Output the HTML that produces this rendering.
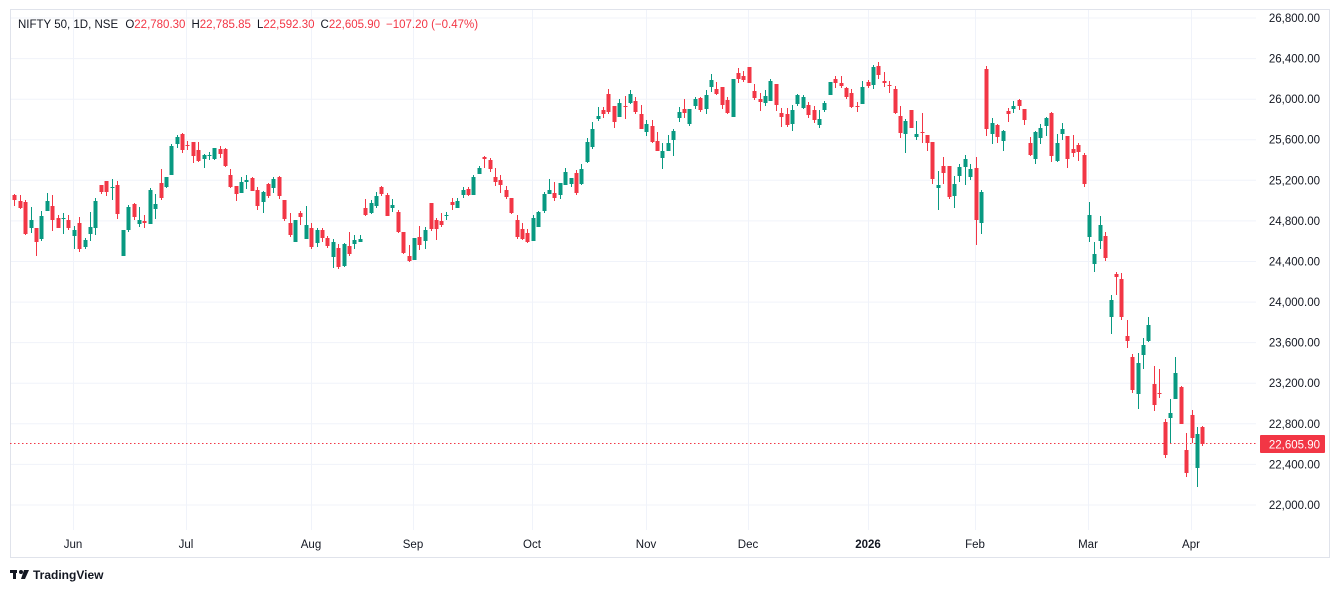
<!DOCTYPE html>
<html><head><meta charset="utf-8"><style>
html,body{margin:0;padding:0;background:#fff;}
body{width:1339px;height:593px;overflow:hidden;font-family:"Liberation Sans",sans-serif;}
svg text{font-family:"Liberation Sans",sans-serif;}
</style></head><body>
<svg id="c" width="1339" height="593" xmlns="http://www.w3.org/2000/svg">
<rect x="0" y="0" width="1339" height="593" fill="#fff"/>
<g id="grid" stroke="#f0f3fa" stroke-width="1"></g>
<rect x="10.5" y="9.5" width="1319" height="548" fill="none" stroke="#e0e3eb" stroke-width="1"/>
<line x1="10" y1="443.5" x2="1258" y2="443.5" stroke="#F23645" stroke-width="1" stroke-dasharray="1.5 2.5"/>
<g id="candles"></g>
<g id="axis" font-size="11.5" fill="#131722" text-anchor="end"></g>
<rect x="1260" y="435" width="65" height="18" fill="#F23645" rx="1"/>
<text x="1320" y="448.5" font-size="11.5" fill="#fff" text-anchor="end">22,605.90</text>
<g id="months" font-size="11.5" fill="#131722" text-anchor="middle"></g>
<text x="18" y="28" font-size="11.5" fill="#131722">NIFTY 50, 1D, NSE <tspan dx="4">O</tspan><tspan fill="#F23645">22,780.30</tspan><tspan dx="6">H</tspan><tspan fill="#F23645">22,785.85</tspan><tspan dx="6">L</tspan><tspan fill="#F23645">22,592.30</tspan><tspan dx="6">C</tspan><tspan fill="#F23645">22,605.90</tspan><tspan dx="6" fill="#F23645">−107.20 (−0.47%)</tspan></text>
<g transform="translate(10,569)"><rect x="0" y="1" width="7" height="3" fill="#131722"/><rect x="3" y="1" width="3" height="9" fill="#131722"/><circle cx="11" cy="3" r="2" fill="#131722"/><path d="M14 1 L19 1 L15 10 L11 10 Z" fill="#131722"/></g>
<text x="33" y="579" font-size="12" fill="#131722" font-weight="bold">TradingView</text>
</svg>
<script>
const ns="http://www.w3.org/2000/svg";
function el(t,a,p){const e=document.createElementNS(ns,t);for(const k in a)e.setAttribute(k,a[k]);p.appendChild(e);return e;}
const grid=document.getElementById('grid'),axis=document.getElementById('axis'),months=document.getElementById('months');
for(let i=0;i<=12;i++){const p=26800-400*i;const y=18+i*40.58;
 el('line',{x1:10,x2:1256,y1:y.toFixed(1),y2:y.toFixed(1)},grid);
 const t=el('text',{x:1320,y:(y+4).toFixed(1)},axis);t.textContent=p.toLocaleString('en-US')+'.00';}
const ms=[["Jun",73],["Jul",186],["Aug",311],["Sep",413],["Oct",532],["Nov",646],["Dec",748],["2026",868],["Feb",975],["Mar",1088],["Apr",1191]];
for(const [m,x] of ms){el('line',{x1:x+.5,x2:x+.5,y1:10,y2:530},grid);
 const t=el('text',{x:x,y:548},months);t.textContent=m;if(m=="2026")t.setAttribute('font-weight','bold');}
const D=[
[14,195,200,194,206],[20,201,208,195,209],[25,202,234,200,235],[31,228,220,207,233],[36,228,242,228,256],[41,239,216,211,241],[47,211,201,193,211],[52,206,220,195,231],[58,218,228,215,228],[63,218.5,218,213,234],[68,220,228,215,230],[74,236,230,226,249],[79,223,249,217,252],[85,247,240,238,249],[90,234,227,212,241],[95,228,201,198,235],[101,185,192,185,194],[106,181,192,181,196],[112,187.5,187,179,200],[117,185,214,181,219],[123,256,230,230,256],[128,230,207,205,232],[134,204,217,203,220],[139,224,220,207,227],[144,221,223,215,228],[150,224,190,188,224],[155,209,204,194,219],[161,183,198,169,200],[166,187,177,177,188],[171,175,146,144,175],[177,144,137,135,148],[182,134,150,133,153],[187,145,145.5,141,150],[193,142,156,142,163],[198,150,161,142,162],[204,159,155,154,168],[209,156,155,152,160],[214,159,148,148,160],
[220,149,154,146,158],[225,149,166,148,167],[230,175,187,169,188],[236,186,194,186,201],[241,193,182,177,193],[246,182,180,175,189],[252,178,191,177,191],[257,190,206,187,210],[263,202,192,191,213],[268,184,196,183,198],[273,188,179,177,193],[279,177,196,176,199],[284,200,219,200,221],[290,223,235,213,237],[295,242,220,220,242],[300,213,217,211,225],[306,239,225,206,239],[311,228,247,223,249],[317,243,230,228,247],[322,230,238,228,242],[327,238,246,236,248],[333,257,242,239,268],[338,248,267,244,269],[344,266,244,243,267],[349,246,254,232,256],[354,244,240,235,249],[360,242,239,235,242],
[365,208,215,199,216],[371,213,203,200,214],[376,206,196,192,208],[381,187,194,186,196],[387,195,216,193,216],[392,208,205,199,212],[398,212,232,210,233],[403,232,253,232,254],[409,256,261,245,262],[414,260,238,238,260],[419,237,245,226,250],[425,241,230,227,249],[431,203,229,203,231],[436,220,229,218,240],[441,221,225,213,227],[446,215.5,215,212,220],[452,202,205,198,210],[457,208,201,198,208],[463,195,190,187,198],[468,189,195,187,196],[473,195,177,175,195],[479,174,168,166,174],[484,157,159,156,168],[490,160,169,158,172],[495,177,182,168,186],[500,180,185,175,193],[506,190,197,186,199],[511,198,213,198,214],[517,220,237,215,239],[522,229,239,223,240],[527,233,242,229,243],[533,241,218,215,241],[538,227,212,211,227],[544,211,194,192,213],[549,194,190,179,194],[554,193,198,182,201],[560,195,183,183,199],[565,185,172,168,185],[571,184,178,178,187],[576,173,193,170,195],[581,184,169,164,185],[587,162,142,138,163],[592,147,129,122,149],[598,119,116,107,121],[603,110,114,107,118],[608,94,112,89,114],[614,106,122,106,128],[619,117,103,99,117],[625,106,106.5,96,119],[630,103,94,90,104],
[635,101,112,97,114],[641,114,129,105,129],[646,132,124,120,136],[652,126,142,120,143],[657,141,151,132,151],[662,158,151,143,169],[668,151,143,135,151],[673,140,131,129,156],[679,118,112,107,122],[684,109,113,99,118],[689,124,109,109,126],[695,106,99,97,109],[700,98,110,97,112],[706,109,95,90,114],[711,87,80,74,92],[716,89,94,82,95],[722,87,105,87,109],[727,100,113,97,114],[733,117,79,79,117],[738,73,79,68,83],[743,76,80,71,82],[749,67,83,67,83],[754,91,98,84,100],[760,99,102,93,111],[765,103,96,90,106],[770,101,81,79,101],[776,84,105,84,111],[781,113,117,108,127],[787,114,125,108,127],[792,124,110,105,131],[797,104,95,94,106],[803,108,97,95,109],[808,105,115,102,118],[814,110,120,106,123],[819,125,119,110,128],[824,110,103,101,112],[830,95,82,82,95],[835,79,83,76,88],[841,83,86,76,88],
[846,88,97,87,99],[851,93,107,89,108],[857,106,106.5,102,112],[862,104,87,81,104],[868,82,86,80,88],[873,85,67,65,89],[878,66,75,62,79],[884,81,83,72,87],[889,85,85.5,81,93],[895,89,113,86,114],[900,116,133,106,138],[905,134,121,119,153],[911,110,128,110,128],[916,137,134,121,140],[922,132,132.5,113,143],[927,135,143,135,151],[932,142,179,142,184],[938,188,185,171,210],[943,166,173,157,184],[949,166,197,166,199],[954,196,184,176,208],[959,176,167,164,182],[965,167,159,155,185],[970,177,169,164,180],[976,168,220,157,245],[981,223,192,190,234],[986,69,129,66,136],[992,134,123,118,144],[997,125,137,124,143],[1003,141,131,130,151],[1008,111,114,108,122],[1013,109,106,101,113],[1019,100,106,99,110],[1024,109,120,109,125],[1030,143,155,137,156],[1035,159,132,131,164],[1040,138,128,124,144],[1046,126,118,117,136],[1051,113,156,112,162],[1057,161,143,134,162],[1062,134,129,123,140],[1067,136,159,136,168],[1073,149,153,135,157],[1078,145,152,143,161],[1084,155,184,153,187],
[1089,237,215,202,242],[1094,264,254,242,272],[1100,241,225,216,249],[1105,236,258,232,261],[1111,317,300,295,334],[1116,274,277,272,295],[1121,279,317,273,320],[1127,336,341,320,348],[1132,357,390,354,393],[1138,394,363,353,409],[1143,355,345,338,369],[1148,341,325,317,342],[1154,384,405,366,411],[1159,393,393.5,369,398],[1165,422,455,419,458],[1170,418,413,399,443],[1175,399,373,357,399],[1181,387,424,386,424],[1186,450,473,433,477],[1192,415,438,410,443],[1197,468,434,427,487],[1202,427,444,426,446]
];
const cg=document.getElementById('candles');
for(const [x,o,c,h,l] of D){const up=c<=o;const col=up?'#089981':'#F23645';
 el('line',{x1:x+.5,x2:x+.5,y1:h,y2:l,stroke:col,'stroke-width':1},cg);
 const t=Math.min(o,c),b=Math.max(o,c);
 el('rect',{x:x-1.5,y:t,width:4,height:Math.max(1,b-t),fill:col},cg);}
</script>
</body></html>
